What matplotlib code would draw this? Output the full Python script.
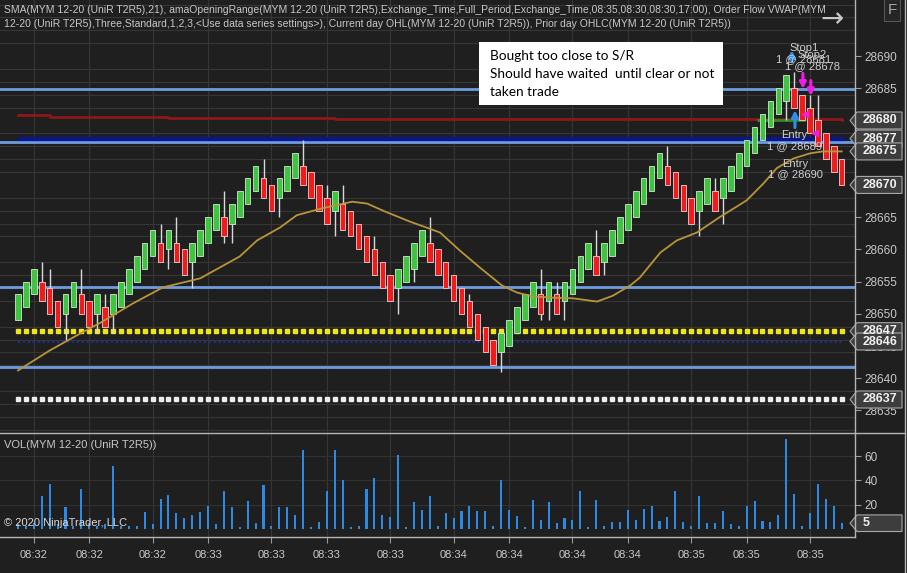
import numpy as np
import matplotlib
matplotlib.use("Agg")
import matplotlib.pyplot as plt
from matplotlib.patches import Polygon, Rectangle

# candles (UniRenko bars), one entry per bar
opens = [28649, 28651, 28653, 28655, 28654, 28652, 28650, 28651, 28653, 28652,
         28650, 28651, 28650, 28651, 28653, 28655, 28657, 28659, 28661, 28660,
         28661, 28660, 28658, 28659, 28661, 28663, 28665, 28664, 28665, 28667,
         28669, 28671, 28670, 28668, 28669, 28671, 28673, 28672, 28670, 28668,
         28666, 28667, 28666, 28664, 28662, 28660, 28658, 28656, 28654, 28655,
         28657, 28659, 28661, 28660, 28658, 28656, 28654, 28652, 28650, 28648,
         28646, 28644, 28645, 28647, 28649, 28651, 28653, 28652, 28653, 28652,
         28653, 28655, 28657, 28659, 28658, 28659, 28661, 28663, 28665, 28667,
         28669, 28671, 28673, 28672, 28670, 28668, 28666, 28667, 28669, 28668,
         28669, 28671, 28673, 28675, 28677, 28679, 28681, 28683, 28685, 28684,
         28682, 28680, 28678, 28676, 28674]
closes = [28653, 28655, 28657, 28652, 28650, 28648, 28653, 28655, 28650, 28648,
          28653, 28648, 28653, 28655, 28657, 28659, 28661, 28663, 28658, 28663,
          28658, 28656, 28661, 28663, 28665, 28667, 28662, 28667, 28669, 28671,
          28673, 28668, 28666, 28671, 28673, 28675, 28670, 28668, 28666, 28664,
          28669, 28663, 28662, 28660, 28658, 28656, 28654, 28652, 28657, 28659,
          28661, 28663, 28658, 28656, 28654, 28652, 28650, 28648, 28646, 28644,
          28642, 28647, 28649, 28651, 28653, 28655, 28650, 28655, 28650, 28655,
          28657, 28659, 28661, 28656, 28661, 28663, 28665, 28667, 28669, 28671,
          28673, 28675, 28670, 28668, 28666, 28664, 28669, 28671, 28666, 28671,
          28673, 28675, 28677, 28679, 28681, 28683, 28685, 28687, 28682, 28680,
          28678, 28676, 28674, 28672, 28670]
# wick extremes that reach beyond the body (bar number starting at 1)
wick_highs = {4: 28658, 5: 28657, 9: 28657, 12: 28653, 19: 28664, 21: 28665,
              27: 28669, 32: 28674, 37: 28677, 40: 28670, 42: 28670, 46: 28662,
              53: 28665, 58: 28653, 67: 28657, 69: 28655, 74: 28663, 83: 28676,
              89: 28671, 99: 28687.5, 101: 28684, 102: 28684}
wick_lows = {7: 28646, 11: 28647, 13: 28647, 20: 28657, 23: 28654, 27: 28661,
             28: 28661, 34: 28665, 41: 28662, 49: 28650, 51: 28655, 62: 28641,
             67: 28649, 68: 28649, 70: 28649, 75: 28656, 87: 28662, 90: 28664,
             98: 28680}

volumes = [4, 3, 5, 27, 37, 4, 18, 3, 33, 5, 3, 4, 52, 3, 3, 3, 14, 4, 25, 28,
           13, 9, 12, 14, 19, 4, 31, 18, 2, 23, 5, 36, 3, 18, 18, 12, 65, 2, 6, 31,
           65, 40, 2, 3, 33, 42, 12, 10, 61, 2, 22, 16, 27, 3, 13, 9, 15, 19, 15, 15,
           3, 40, 16, 11, 2, 24, 8, 22, 5, 9, 8, 31, 2, 24, 3, 6, 6, 16, 8, 17,
           19, 7, 10, 31, 6, 3, 27, 5, 5, 15, 4, 3, 19, 23, 7, 6, 12, 74, 29, 3,
           13, 37, 25, 19, 5]

# SMA(21) at bar positions
sma_idx = [0, 4.0, 7.8, 10.4, 14.5, 18.3, 23.0, 25.5, 28.0, 30.2, 33.1, 35.2,
           38.5, 42.2, 44.1, 46.1, 49.5, 52.0, 53.3, 55.8, 58.3, 61.1, 63.0,
           65.0, 67.6, 70.1, 73.1, 75.1, 77.3, 78.5, 81.1, 83.2, 85.7, 88.6,
           92.0, 94.1, 95.8, 97.9, 100.0, 101.6, 104.0]
sma_val = [28641.2, 28644.3, 28646.9, 28648.6, 28651.6, 28654.1, 28655.5,
           28657.2, 28658.9, 28661.4, 28663.4, 28665.3, 28666.4, 28667.4,
           28667.1, 28666.0, 28664.3, 28663.2, 28662.6, 28659.8, 28657.2,
           28654.4, 28653.3, 28652.7, 28652.5, 28652.4, 28651.9, 28652.8,
           28654.4, 28655.6, 28659.5, 28661.4, 28662.6, 28665.0, 28667.6,
           28670.2, 28672.6, 28674.1, 28674.9, 28675.2, 28675.2]

# VWAP (dark red) steps
vwap_idx = [0, 4, 19, 40, 104]
vwap_val = [28680.9, 28680.6, 28680.4, 28680.2, 28680.1]

range_levels = [28684.9, 28676.6, 28654.2, 28641.7]   # light blue lines
navy_level = 28677.2
day_low_level = 28647.3        # yellow dots
navy_dot_level = 28645.7
prior_level = 28636.7          # white dots

price_ticks = [28635, 28640, 28645, 28650, 28655, 28660, 28665, 28670, 28675, 28680, 28685, 28690]
price_boxes = [(28680, "28680"), (28677.2, "28677"), (28675.2, "28675"), (28670, "28670"),
               (28647.3, "28647"), (28645.7, "28646"), (28636.7, "28637")]
time_idx = [2, 9, 17, 24, 32, 39, 47, 55, 62, 70, 77, 85, 92, 100]
time_labels = ["08:32", "08:32", "08:32", "08:33", "08:33", "08:33", "08:33",
               "08:34", "08:34", "08:34", "08:34", "08:35", "08:35", "08:35"]

header1 = ("SMA(MYM 12-20 (UniR T2R5),21), amaOpeningRange(MYM 12-20 (UniR T2R5),Exchange_Time,"
           "Full_Period,Exchange_Time,08:35,08:30,08:30,17:00), Order Flow VWAP(MYM")
header2 = ("12-20 (UniR T2R5),Three,Standard,1,2,3,<Use data series settings>), Current day "
           "OHL(MYM 12-20 (UniR T2R5)), Prior day OHLC(MYM 12-20 (UniR T2R5))")
note_lines = ["Bought too close to S/R", "Should have waited  until clear or not", "taken trade"]

BG = "#1f1f1f"
GRID = "#363636"
TXT = "#c8c8c8"
W, H = 907, 573
plt.rcParams["font.family"] = ["Liberation Sans", "DejaVu Sans"]

fig = plt.figure(figsize=(W / 100, H / 100), dpi=100, facecolor=BG)


def frame(x0, y0, x1, y1):
    return [x0 / W, 1 - y1 / H, (x1 - x0) / W, (y1 - y0) / H]


ax = fig.add_axes(frame(0, 0, 855, 433))
axv = fig.add_axes(frame(0, 433, 855, 537), sharex=ax)
for a in (ax, axv):
    a.set_facecolor(BG)
    for s in a.spines.values():
        s.set_visible(False)

n = len(opens)
idx = np.arange(n)
o = np.array(opens, float)
c = np.array(closes, float)
hi = np.maximum(o, c)
lo = np.minimum(o, c)
for k, v in wick_highs.items():
    hi[k - 1] = v
for k, v in wick_lows.items():
    lo[k - 1] = v
up = c > o

ax.set_xlim(-2.27, 105.68)
ax.set_ylim(28631.5, 28698.7)

# grid
ax.set_xticks(time_idx)
ax.set_yticks(np.arange(28632, 28699, 2), minor=True)
ax.grid(True, axis="x", color=GRID, lw=0.8)
ax.grid(True, axis="y", which="minor", color=GRID, lw=0.8)
ax.set_axisbelow(True)

# levels
for lv in range_levels:
    ax.axhline(lv, color="#6d9de0", lw=2, zorder=2)
ax.hlines(navy_level, 0, 104.4, color="#0b168a", lw=3, zorder=2)
ax.plot(vwap_idx, vwap_val, color="#8e1717", lw=2, drawstyle="steps-post", zorder=2)
ax.hlines(28680.1, 93.3, 99.4, color="#2e8b2e", lw=2, zorder=2)
ax.plot(idx, [day_low_level] * n, ls="none", marker="s", ms=3.0, color="#f0e41a", zorder=2)
ax.hlines(navy_dot_level, 0, 104, color="#1c2b9c", lw=1.6, linestyles=(0, (1, 1.2)), zorder=2)
ax.plot(idx, [prior_level] * n, ls="none", marker="s", ms=2.2, color="#ececec", zorder=2)

# candles
ax.vlines(idx, lo, hi, color="#d8d8d8", lw=1, zorder=3)
ax.bar(idx[up], (c - o)[up], bottom=o[up], width=0.7, color="#3ec43e",
       edgecolor="#cfe8cf", lw=0.6, zorder=4)
ax.bar(idx[~up], (o - c)[~up], bottom=c[~up], width=0.7, color="#f01b1b",
       edgecolor="#f0d0d0", lw=0.6, zorder=4)

ax.plot(sma_idx, sma_val, color="#b9953a", lw=1.3, zorder=5)

# trade markers
arrow = dict(arrowstyle="-|>", lw=2.2, mutation_scale=9, shrinkA=0, shrinkB=0)
ax.annotate("", xy=(98.1, 28681.6), xytext=(98.1, 28678.9), arrowprops=dict(arrow, color="#2f8fe8"), zorder=6)
ax.annotate("", xy=(97.7, 28690.9), xytext=(97.7, 28689.1), arrowprops=dict(arrow, color="#2f8fe8"), zorder=6)
ax.annotate("", xy=(99.1, 28684.9), xytext=(99.1, 28687.3), arrowprops=dict(arrow, color="#ee1ee6"), zorder=6)
ax.annotate("", xy=(100.1, 28683.8), xytext=(100.1, 28686.2), arrowprops=dict(arrow, color="#ee1ee6"), zorder=6)
ax.plot([99.4, 100.6], [28681.0, 28678.1], ls="none", marker="<", ms=5, color="#ee1ee6", zorder=6)

tk = dict(ha="center", va="top", fontsize=8, color="#cfcfcf", linespacing=1.1, zorder=7)
ax.text(99.2, 28692.0, "Stop1\n1 @ 28681", **tk)
ax.text(100.3, 28690.9, "Stop2\n1 @ 28678", **tk)
ax.text(98.0, 28678.6, "Entry\n1 @ 28689", **dict(tk, linespacing=1.25))
ax.text(98.1, 28674.1, "Entry\n1 @ 28690", **dict(tk, linespacing=1.1))

# price axis
ax.yaxis.tick_right()
ax.set_yticks(price_ticks)
ax.set_yticklabels([str(t) for t in price_ticks])
ax.tick_params(axis="y", which="major", colors="#9a9a9a", labelcolor=TXT, labelsize=8.5,
               length=4, pad=3)
ax.tick_params(axis="y", which="minor", length=0)
ax.tick_params(axis="x", length=0, labelbottom=False)


def price_box(a, val, txt, hh):
    tr = a.get_yaxis_transform()
    x0, x1, x2 = 850 / 855, 857 / 855, 902 / 855
    a.add_patch(Polygon([(x0, val), (x1, val + hh), (x2, val + hh), (x2, val - hh), (x1, val - hh)],
                        closed=True, transform=tr, clip_on=False, fc="#3d3d3d", ec="#a8a8a8",
                        lw=0.8, zorder=10))
    a.text(863 / 855, val, txt, transform=tr, ha="left", va="center", fontsize=9,
           fontweight="bold", color="#f0f0f0", clip_on=False, zorder=11)


for val, txt in price_boxes:
    price_box(ax, val, txt, 1.32)

# volume panel
axv.bar(idx, volumes, width=0.26, color="#2b8ae6", zorder=3)
axv.set_ylim(-6.3, 78.9)
axv.set_yticks([20, 40, 60], minor=False)
axv.grid(True, axis="x", color=GRID, lw=0.8)
axv.grid(True, axis="y", color=GRID, lw=0.6)
axv.set_axisbelow(True)
axv.yaxis.tick_right()
axv.tick_params(axis="y", colors="#9a9a9a", labelcolor=TXT, labelsize=8.5, length=4, pad=3)
axv.set_xticks(time_idx)
axv.set_xticklabels(time_labels)
axv.tick_params(axis="x", colors="#9a9a9a", labelcolor=TXT, labelsize=8, length=4, pad=5)
price_box(axv, 5, "5", 6.8)
axv.text(4 / 855, 0.88, "VOL(MYM 12-20 (UniR T2R5))", transform=axv.transAxes,
         fontsize=8, color=TXT, va="center")
axv.text(4 / 855, 0.13, "\u00a9 2020 NinjaTrader, LLC", transform=axv.transAxes,
         fontsize=8, color="#d8d8d8", va="center", zorder=6)

# header + annotation + widgets
fig.text(4 / W, 1 - 10 / H, header1, fontsize=7.45, color=TXT, va="center")
fig.text(4 / W, 1 - 24 / H, header2, fontsize=7.45, color=TXT, va="center")
fig.patches.append(Rectangle((479 / W, 1 - 105 / H), 244 / W, 63 / H, transform=fig.transFigure,
                             fc="white", ec="none", zorder=20))
for i, line in enumerate(note_lines):
    fig.text(490 / W, 1 - (56 + 18 * i) / H, line, fontsize=9.8, color="black", va="center",
             family=["Lato", "DejaVu Sans"], zorder=21)
fig.text(832 / W, 1 - 19 / H, "\u2192", fontsize=20, color="#c8c8c8", ha="center", va="center",
         family=["DejaVu Sans"])
fig.text(892 / W, 1 - 10 / H, "F", fontsize=11, color="#a8a8a8", ha="center", va="center",
         bbox=dict(boxstyle="square,pad=0.25", fc="#262626", ec="#555555", lw=0.8))

# panel frame lines
for (x0, y0, x1, y1) in [(0, 433, 905, 433), (0, 537, 855, 537), (855, 0, 855, 537), (905, 0, 905, 573)]:
    fig.add_artist(plt.Line2D([x0 / W, x1 / W], [1 - y0 / H, 1 - y1 / H], transform=fig.transFigure,
                              color="#b4b4b4", lw=1))

fig.savefig("out.png", dpi=100, facecolor=BG)
